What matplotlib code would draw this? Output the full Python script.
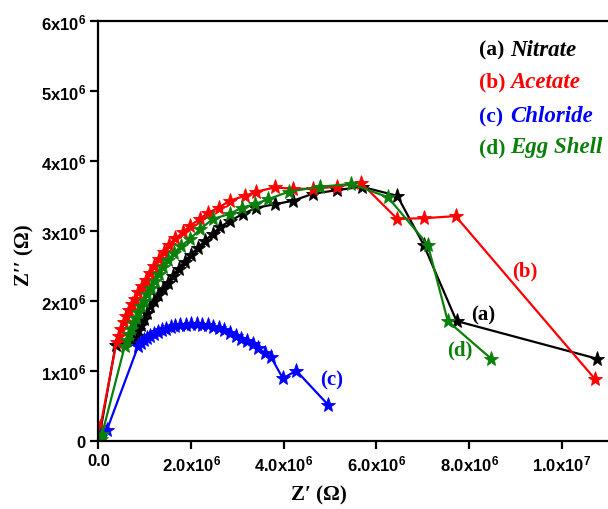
import numpy as np
import matplotlib
matplotlib.use("Agg")
import matplotlib.pyplot as plt

plt.rcParams['mathtext.fontset'] = 'custom'
plt.rcParams['mathtext.rm'] = 'Liberation Sans:bold'
plt.rcParams['mathtext.it'] = 'Liberation Sans:bold'
plt.rcParams['mathtext.bf'] = 'Liberation Sans:bold'

# values, in units of 1e6 Ohm
nitrate_x = [0.02, 0.37, 0.75, 0.80, 0.86, 0.92, 0.98, 1.05, 1.12, 1.20, 1.29, 1.40, 1.50, 1.61,
             1.73, 1.86, 2.00, 2.15, 2.30, 2.47, 2.62, 2.83, 3.12, 3.41, 3.81, 4.20, 4.63, 5.14,
             5.68, 6.45, 7.02, 7.73, 10.77]
nitrate_y = [0.06, 1.37, 1.42, 1.50, 1.58, 1.66, 1.74, 1.83, 1.92, 2.00, 2.08, 2.17, 2.26, 2.36,
             2.46, 2.56, 2.66, 2.76, 2.86, 2.96, 3.05, 3.14, 3.24, 3.33, 3.38, 3.43, 3.53, 3.58,
             3.63, 3.50, 2.80, 1.71, 1.17]

acetate_x = [0.02, 0.04, 0.39, 0.44, 0.49, 0.54, 0.60, 0.66, 0.72, 0.79, 0.86, 0.94, 1.02, 1.11,
             1.20, 1.30, 1.41, 1.53, 1.66, 1.83, 1.97, 2.19, 2.37, 2.60, 2.83, 3.16, 3.41, 3.81,
             4.20, 4.63, 5.14, 5.66, 6.45, 7.03, 7.71, 10.72]
acetate_y = [0.05, 0.20, 1.41, 1.50, 1.60, 1.69, 1.78, 1.87, 1.95, 2.03, 2.12, 2.21, 2.30, 2.40,
             2.50, 2.60, 2.70, 2.80, 2.89, 2.98, 3.07, 3.17, 3.26, 3.33, 3.43, 3.50, 3.56, 3.62,
             3.60, 3.60, 3.63, 3.69, 3.17, 3.18, 3.21, 0.88]

chloride_x = [0.04, 0.18, 0.86, 0.92, 0.98, 1.05, 1.12, 1.20, 1.28, 1.37, 1.46, 1.56, 1.66, 1.77,
              1.88, 2.00, 2.12, 2.24, 2.36, 2.48, 2.60, 2.72, 2.84, 2.96, 3.08, 3.20, 3.33, 3.45,
              3.59, 3.73, 3.98, 4.27, 4.96]
chloride_y = [0.05, 0.15, 1.36, 1.40, 1.44, 1.47, 1.50, 1.53, 1.56, 1.58, 1.60, 1.62, 1.64, 1.65,
              1.66, 1.67, 1.67, 1.66, 1.65, 1.63, 1.61, 1.58, 1.54, 1.50, 1.46, 1.42, 1.38, 1.32,
              1.25, 1.19, 0.89, 1.00, 0.51]

eggshell_x = [0.05, 0.08, 0.57, 0.61, 0.65, 0.70, 0.75, 0.80, 0.86, 0.92, 0.98, 1.05, 1.13, 1.21,
              1.30, 1.40, 1.51, 1.62, 1.78, 1.97, 2.19, 2.47, 2.83, 3.09, 3.37, 3.66, 4.11, 4.78,
              5.46, 6.25, 7.11, 7.54, 8.48]
eggshell_y = [0.03, 0.10, 1.36, 1.44, 1.52, 1.60, 1.68, 1.76, 1.84, 1.92, 2.00, 2.09, 2.18, 2.28,
              2.38, 2.48, 2.58, 2.68, 2.78, 2.88, 3.02, 3.17, 3.24, 3.33, 3.38, 3.45, 3.56, 3.63,
              3.67, 3.48, 2.80, 1.71, 1.17]

names = ['Nitrate', 'Acetate', 'Chloride', 'Egg Shell']
tags = ['(a)', '(b)', '(c)', '(d)']
colors = ['black', '#ff0000', '#0000ff', '#0a800a']

series = [(nitrate_x, nitrate_y), (acetate_x, acetate_y),
          (chloride_x, chloride_y), (eggshell_x, eggshell_y)]

fig = plt.figure(figsize=(6.08, 5.10), dpi=100)
ax = fig.add_axes([0.162, 0.134, 0.838, 0.823])

for (xs, ys), c in zip(series, colors):
    ax.plot(np.array(xs) * 1e6, np.array(ys) * 1e6, color=c, lw=1.6,
            marker='*', markersize=11, markeredgewidth=0.6)

ax.set_xlim(0, 1.1e7)
ax.set_ylim(0, 6e6)

yt = [0, 1e6, 2e6, 3e6, 4e6, 5e6, 6e6]
ax.set_yticks(yt)
ax.set_yticklabels(['0'] + ['%dx10$^6$' % i for i in range(1, 7)])
xt = [0, 2e6, 4e6, 6e6, 8e6, 1e7]
ax.set_xticks(xt)
ax.set_xticklabels(['0.0', '2.0x10$^6$', '4.0x10$^6$', '6.0x10$^6$', '8.0x10$^6$', '1.0x10$^7$'])

for lab in ax.get_xticklabels() + ax.get_yticklabels():
    lab.set_family('Liberation Sans')
    lab.set_fontweight('bold')
    lab.set_fontsize(12)

ax.tick_params(direction='out', length=6, width=1.6, pad=3)
ax.tick_params(top=False, right=False)
for s in ['left', 'bottom', 'top']:
    ax.spines[s].set_linewidth(1.6)
ax.spines['right'].set_visible(False)

ax.set_xlabel("Z\u2032 (\u03a9)", family='Liberation Serif', fontweight='bold', fontsize=15)
ax.set_ylabel("Z\u2032\u2032 (\u03a9)", family='Liberation Serif', fontweight='bold', fontsize=15)
ax.xaxis.set_label_coords(0.433, -0.105)
ax.yaxis.set_label_coords(-0.125, 0.445)

# legend written as text
leg_y = [50, 82, 117, 148]
for t, n, c, yy in zip(tags, names, colors, leg_y):
    fig.text(479 / 608, 1 - yy / 510, t, color=c, family='Liberation Serif',
             fontweight='bold', fontsize=15.5, va='center', ha='left')
    fig.text(510 / 608, 1 - yy / 510, n, color=c, family='Liberation Serif',
             fontweight='bold', style='italic', fontsize=16.5, va='center', ha='left')

# curve labels
lab_x = [8.3e6, 9.2e6, 5.03e6, 7.8e6]
lab_y = [1.81e6, 2.43e6, 0.88e6, 1.31e6]
for t, c, lx, ly in zip(tags, colors, lab_x, lab_y):
    ax.text(lx, ly, t, color=c, family='Liberation Serif', fontweight='bold',
            fontsize=15, ha='center', va='center')

fig.savefig('out.png', dpi=100)
